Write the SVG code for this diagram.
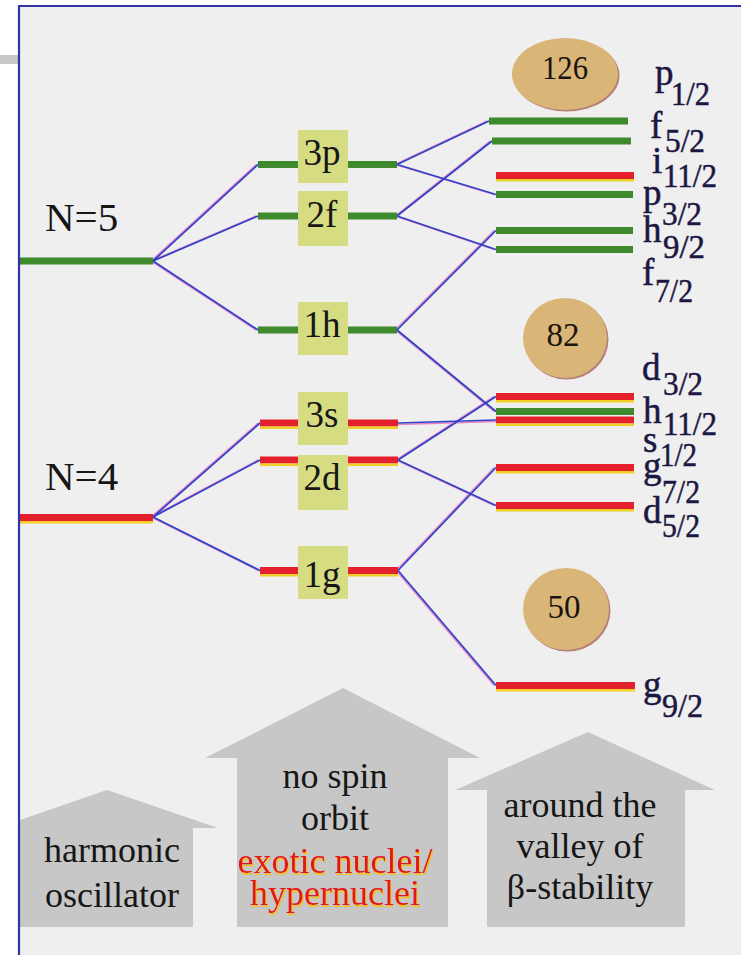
<svg xmlns="http://www.w3.org/2000/svg" xmlns:xlink="http://www.w3.org/1999/xlink" width="741" height="955" viewBox="0 0 741 955">
  <style>
    .paper{fill:#efefef}
    .frame{stroke:#3434a2;stroke-width:2.2;fill:none}
    .lv-g{fill:#3f8a2c}
    .lv-r{fill:#e4202c}
    .lv-y{fill:#f2cf26}
    .box{fill:#d6dc82}
    .wire-p{stroke:#e882c8;stroke-width:1.5;fill:none}
    .wire-b{stroke:#2e42c8;stroke-width:1.7;fill:none}
    .t{font-family:"Liberation Serif","Times New Roman",serif;fill:#161616}
    .orb{font-size:37px;text-anchor:middle}
    .nl{font-size:41px}
    .st{font-size:37px;fill:#1b1742;stroke:#1b1742;stroke-width:0.5}
    .sub{font-size:34px;fill:#1b1742;stroke:#1b1742;stroke-width:0.5}
    .magic{fill:#d9b577}
    .magic-edge{fill:#b57f7a}
    .mnum{font-size:33px;text-anchor:middle;fill:#1a1410}
    .arrow{fill:#c7c7c7}
    .cap{font-size:36px;text-anchor:middle}
    .red{fill:#e3141e;filter:url(#yellow-shadow)}
  </style>
  <defs>
    <!-- yellow drop shadow under the red caption -->
    <filter id="yellow-shadow" x="-5%" y="-20%" width="110%" height="150%">
      <feFlood flood-color="#f1c21e"/>
      <feComposite in2="SourceAlpha" operator="in"/>
      <feOffset dx="0.8" dy="1.6" result="sh"/>
      <feMerge><feMergeNode in="sh"/><feMergeNode in="SourceGraphic"/></feMerge>
    </filter>
    <!-- split lines: oscillator shell -> l-shell, l-shell -> spin-orbit levels -->
    <path id="w-n5-3p" d="M153,261 L258,164.5"/>
    <path id="w-n5-2f" d="M153,261 L258,216"/>
    <path id="w-n5-1h" d="M153,261 L258,330"/>
    <path id="w-n4-3s" d="M153,517 L260,423"/>
    <path id="w-n4-2d" d="M153,517 L260,460"/>
    <path id="w-n4-1g" d="M153,517 L260,570.5"/>
    <path id="w-3p-p1" d="M397,164.5 L489,121"/>
    <path id="w-3p-p3" d="M397,164.5 L496,194.5"/>
    <path id="w-2f-f5" d="M397,216 L492,141"/>
    <path id="w-2f-f7" d="M397,216 L496,249.5"/>
    <path id="w-1h-h9" d="M397,330 L496,230.5"/>
    <path id="w-1h-h11" d="M397,330 L496,411.5"/>
    <path id="w-3s-s1" d="M398,423 L496,420"/>
    <path id="w-2d-d3" d="M398,460 L496,396.5"/>
    <path id="w-2d-d5" d="M398,460 L496,505.5"/>
    <path id="w-1g-g7" d="M398,570.5 L496,467.5"/>
    <path id="w-1g-g9" d="M398,570.5 L496,685.5"/>
  </defs>

  <!-- page -->
  <rect x="0" y="0" width="741" height="955" fill="#ffffff"/>
  <rect class="paper" x="19" y="6" width="722" height="949"/>
  <rect x="0" y="55" width="18" height="9" fill="#c9c9c9"/>

  <!-- bottom block arrows -->
  <g id="arrow-ho">
    <polygon class="arrow" points="20,820 107,790 218,828 193,828 193,927 20,927"/>
    <text class="t cap" x="112" y="862">harmonic</text>
    <text class="t cap" x="112" y="907">oscillator</text>
  </g>
  <g id="arrow-nso">
    <polygon class="arrow" points="205,758 343,688 480,758 448,758 448,927 237,927 237,758"/>
    <text class="t cap" x="335" y="788">no spin</text>
    <text class="t cap" x="335" y="830">orbit</text>
    <text class="t cap red" x="335" y="873">exotic nuclei/</text>
    <text class="t cap red" x="335" y="905">hypernuclei</text>
  </g>
  <g id="arrow-beta">
    <polygon class="arrow" points="455,790 588,732 715,790 685,790 685,927 487,927 487,790"/>
    <text class="t cap" x="580" y="817">around the</text>
    <text class="t cap" x="580" y="858">valley of</text>
    <text class="t cap" x="580" y="899">β-stability</text>
  </g>

  <!-- connectors -->
  <g id="connectors">
    <g transform="translate(-1.8,0)">
      <use xlink:href="#w-n5-3p" class="wire-p"/>
      <use xlink:href="#w-n5-2f" class="wire-p"/>
      <use xlink:href="#w-n5-1h" class="wire-p"/>
      <use xlink:href="#w-n4-3s" class="wire-p"/>
      <use xlink:href="#w-n4-2d" class="wire-p"/>
      <use xlink:href="#w-n4-1g" class="wire-p"/>
      <use xlink:href="#w-3p-p1" class="wire-p"/>
      <use xlink:href="#w-3p-p3" class="wire-p"/>
      <use xlink:href="#w-2f-f5" class="wire-p"/>
      <use xlink:href="#w-2f-f7" class="wire-p"/>
      <use xlink:href="#w-1h-h9" class="wire-p"/>
      <use xlink:href="#w-1h-h11" class="wire-p"/>
      <use xlink:href="#w-3s-s1" class="wire-p" transform="translate(1.8,1.6)"/>
      <use xlink:href="#w-2d-d3" class="wire-p"/>
      <use xlink:href="#w-2d-d5" class="wire-p"/>
      <use xlink:href="#w-1g-g7" class="wire-p"/>
      <use xlink:href="#w-1g-g9" class="wire-p"/>
    </g>
    <g>
      <use xlink:href="#w-n5-3p" class="wire-b"/>
      <use xlink:href="#w-n5-2f" class="wire-b"/>
      <use xlink:href="#w-n5-1h" class="wire-b"/>
      <use xlink:href="#w-n4-3s" class="wire-b"/>
      <use xlink:href="#w-n4-2d" class="wire-b"/>
      <use xlink:href="#w-n4-1g" class="wire-b"/>
      <use xlink:href="#w-3p-p1" class="wire-b"/>
      <use xlink:href="#w-3p-p3" class="wire-b"/>
      <use xlink:href="#w-2f-f5" class="wire-b"/>
      <use xlink:href="#w-2f-f7" class="wire-b"/>
      <use xlink:href="#w-1h-h9" class="wire-b"/>
      <use xlink:href="#w-1h-h11" class="wire-b"/>
      <use xlink:href="#w-3s-s1" class="wire-b"/>
      <use xlink:href="#w-2d-d3" class="wire-b"/>
      <use xlink:href="#w-2d-d5" class="wire-b"/>
      <use xlink:href="#w-1g-g7" class="wire-b"/>
      <use xlink:href="#w-1g-g9" class="wire-b"/>
    </g>
  </g>

  <!-- oscillator shells -->
  <g id="n5">
    <rect class="lv-g" x="19" y="257.5" width="134" height="7"/>
    <text class="t nl" x="45" y="231">N=5</text>
  </g>
  <g id="n4">
    <rect class="lv-r" x="19" y="514" width="134" height="7"/>
    <rect class="lv-y" x="19" y="521" width="134" height="2.5"/>
    <text class="t nl" x="45" y="490">N=4</text>
  </g>

  <!-- l-shells (no spin-orbit) -->
  <g id="l-3p">
    <rect class="lv-g" x="258" y="161" width="40" height="7"/>
    <rect class="lv-g" x="348" y="161" width="49" height="7"/>
    <rect class="box" x="298" y="130" width="50" height="53"/>
    <text class="t orb" x="322" y="165">3p</text>
  </g>
  <g id="l-2f">
    <rect class="lv-g" x="258" y="212.5" width="40" height="7"/>
    <rect class="lv-g" x="348" y="212.5" width="49" height="7"/>
    <rect class="box" x="298" y="191" width="50" height="55"/>
    <text class="t orb" x="322" y="227">2f</text>
  </g>
  <g id="l-1h">
    <rect class="lv-g" x="258" y="326.5" width="40" height="7"/>
    <rect class="lv-g" x="348" y="326.5" width="49" height="7"/>
    <rect class="box" x="298" y="302" width="50" height="53"/>
    <text class="t orb" x="322" y="337">1h</text>
  </g>
  <g id="l-3s">
    <rect class="lv-r" x="260" y="419.5" width="38" height="7"/>
    <rect class="lv-y" x="260" y="426.5" width="38" height="2.5"/>
    <rect class="lv-r" x="348" y="419.5" width="50" height="7"/>
    <rect class="lv-y" x="348" y="426.5" width="50" height="2.5"/>
    <rect class="box" x="298" y="392" width="50" height="53"/>
    <text class="t orb" x="322" y="427">3s</text>
  </g>
  <g id="l-2d">
    <rect class="lv-r" x="260" y="456.5" width="38" height="7"/>
    <rect class="lv-y" x="260" y="463.5" width="38" height="2.5"/>
    <rect class="lv-r" x="348" y="456.5" width="50" height="7"/>
    <rect class="lv-y" x="348" y="463.5" width="50" height="2.5"/>
    <rect class="box" x="298" y="455" width="50" height="55"/>
    <text class="t orb" x="322" y="490">2d</text>
  </g>
  <g id="l-1g">
    <rect class="lv-r" x="260" y="567" width="38" height="7"/>
    <rect class="lv-y" x="260" y="574" width="38" height="2.5"/>
    <rect class="lv-r" x="348" y="567" width="50" height="7"/>
    <rect class="lv-y" x="348" y="574" width="50" height="2.5"/>
    <rect class="box" x="298" y="546" width="50" height="53"/>
    <text class="t orb" x="322" y="587">1g</text>
  </g>

  <!-- spin-orbit levels -->
  <g id="p12"><rect class="lv-g" x="489" y="117.5" width="139" height="7"/></g>
  <g id="f52"><rect class="lv-g" x="492" y="137.5" width="139" height="7"/></g>
  <g id="i112">
    <rect class="lv-r" x="496" y="172" width="138" height="7"/>
    <rect class="lv-y" x="496" y="179" width="138" height="2.5"/>
  </g>
  <g id="p32"><rect class="lv-g" x="496" y="191" width="137" height="7"/></g>
  <g id="h92"><rect class="lv-g" x="496" y="227" width="137" height="7"/></g>
  <g id="f72"><rect class="lv-g" x="496" y="246" width="137" height="7"/></g>
  <g id="d32">
    <rect class="lv-r" x="496" y="393" width="138" height="7"/>
    <rect class="lv-y" x="496" y="400" width="138" height="2.5"/>
  </g>
  <g id="h112"><rect class="lv-g" x="496" y="408" width="138" height="7"/></g>
  <g id="s12">
    <rect class="lv-r" x="496" y="416.5" width="138" height="7"/>
    <rect class="lv-y" x="496" y="423.5" width="138" height="2.5"/>
  </g>
  <g id="g72">
    <rect class="lv-r" x="496" y="464" width="138" height="7"/>
    <rect class="lv-y" x="496" y="471" width="138" height="2.5"/>
  </g>
  <g id="d52">
    <rect class="lv-r" x="496" y="502" width="138" height="7"/>
    <rect class="lv-y" x="496" y="509" width="138" height="2.5"/>
  </g>
  <g id="g92">
    <rect class="lv-r" x="496" y="682" width="139" height="7"/>
    <rect class="lv-y" x="496" y="689" width="139" height="2.5"/>
  </g>

  <!-- level labels -->
  <g id="labels">
    <text class="t st" x="655" y="85">p</text><text class="t sub" x="671" y="105" textLength="39" lengthAdjust="spacingAndGlyphs">1/2</text>
    <text class="t st" x="650" y="138">f</text><text class="t sub" x="665" y="152" textLength="40" lengthAdjust="spacingAndGlyphs">5/2</text>
    <text class="t st" x="652" y="173">i</text><text class="t sub" x="663" y="187" textLength="54" lengthAdjust="spacingAndGlyphs">11/2</text>
    <text class="t st" x="643" y="205">p</text><text class="t sub" x="662" y="225" textLength="40" lengthAdjust="spacingAndGlyphs">3/2</text>
    <text class="t st" x="643" y="242">h</text><text class="t sub" x="663" y="258" textLength="42" lengthAdjust="spacingAndGlyphs">9/2</text>
    <text class="t st" x="642" y="285">f</text><text class="t sub" x="655" y="302" textLength="38" lengthAdjust="spacingAndGlyphs">7/2</text>
    <text class="t st" x="642" y="380">d</text><text class="t sub" x="663" y="395" textLength="40" lengthAdjust="spacingAndGlyphs">3/2</text>
    <text class="t st" x="643" y="423">h</text><text class="t sub" x="663" y="435" textLength="54" lengthAdjust="spacingAndGlyphs">11/2</text>
    <text class="t st" x="643" y="452">s</text><text class="t sub" x="660" y="466" textLength="37" lengthAdjust="spacingAndGlyphs">1/2</text>
    <text class="t st" x="643" y="478">g</text><text class="t sub" x="662" y="503" textLength="38" lengthAdjust="spacingAndGlyphs">7/2</text>
    <text class="t st" x="643" y="523">d</text><text class="t sub" x="662" y="537" textLength="38" lengthAdjust="spacingAndGlyphs">5/2</text>
    <text class="t st" x="643" y="697">g</text><text class="t sub" x="662" y="717" textLength="41" lengthAdjust="spacingAndGlyphs">9/2</text>
  </g>

  <!-- magic numbers -->
  <g id="magic-126">
    <ellipse class="magic-edge" cx="566.5" cy="75.5" rx="53" ry="36"/>
    <ellipse class="magic" cx="565" cy="74" rx="53" ry="36"/>
    <text class="t mnum" x="565" y="79" textLength="46" lengthAdjust="spacingAndGlyphs">126</text>
  </g>
  <g id="magic-82">
    <ellipse class="magic-edge" cx="566.5" cy="339.5" rx="42" ry="40"/>
    <ellipse class="magic" cx="565" cy="338" rx="42" ry="40"/>
    <text class="t mnum" x="563" y="346">82</text>
  </g>
  <g id="magic-50">
    <ellipse class="magic-edge" cx="567.5" cy="610.5" rx="43" ry="41"/>
    <ellipse class="magic" cx="566" cy="609" rx="43" ry="41"/>
    <text class="t mnum" x="564" y="618">50</text>
  </g>

  <!-- frame -->
  <path class="frame" d="M19,955 L19,6 L741,6"/>
</svg>
